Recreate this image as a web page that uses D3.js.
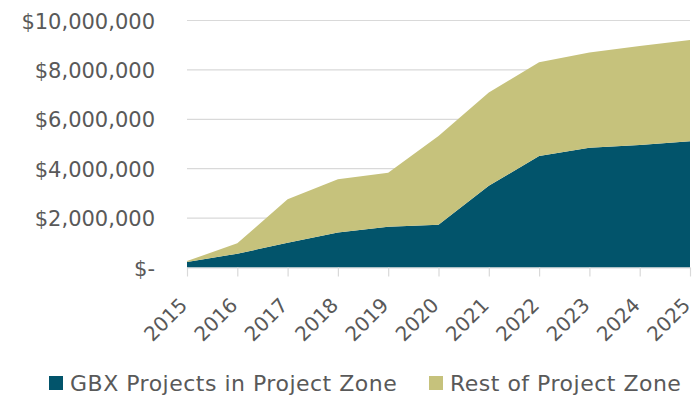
<!DOCTYPE html>
<html><head><meta charset="utf-8">
<script src="https://cdn.jsdelivr.net/npm/d3@7"></script>
<style>body{margin:0;background:#fff;}svg{display:block;}</style>
</head><body><div id="chart"></div>
<script>
const years = [2015,2016,2017,2018,2019,2020,2021,2022,2023,2024,2025];
const gbx  = [220000, 560000, 1000000, 1420000, 1650000, 1730000, 3310000, 4510000, 4850000, 4960000, 5110000];
const rest = [40000, 420000, 1760000, 2150000, 2190000, 3590000, 3770000, 3800000, 3850000, 4010000, 4100000];
const seriesNames = ["GBX Projects in Project Zone", "Rest of Project Zone"];
const colors = ["#02546B", "#C6C27C"];
const yTicks = [0, 2000000, 4000000, 6000000, 8000000, 10000000];

const W = 696, H = 406;
const m = {left:187, right:6, top:20.5, bottom:138.5};
const svg = d3.select("#chart").append("svg").attr("width", W).attr("height", H);
const x = d3.scalePoint().domain(years).range([m.left, W - m.right]);
const y = d3.scaleLinear().domain([0, 10000000]).range([H - m.bottom, m.top]);
const font = "'DejaVu Sans', sans-serif";
const textColor = "#595959";

// gridlines
svg.append("g").selectAll("line").data(yTicks.slice(1)).join("line")
  .attr("x1", m.left).attr("x2", W - m.right)
  .attr("y1", d => y(d)).attr("y2", d => y(d))
  .attr("stroke", "#D9D9D9").attr("stroke-width", 1.2);

const table = years.map((yr, i) => ({year: yr, gbx: gbx[i], rest: rest[i]}));
const stack = d3.stack().keys(["gbx", "rest"])(table);
const area = d3.area().x(d => x(d.data.year)).y0(d => y(d[0])).y1(d => y(d[1]));
svg.append("g").selectAll("path").data(stack).join("path")
  .attr("d", area).attr("fill", (d, i) => colors[i]);

// x axis
const xAxis = svg.append("g").attr("transform", `translate(0,${y(0)})`)
  .call(d3.axisBottom(x).tickSize(9).tickSizeOuter(0));
xAxis.select(".domain").attr("stroke", "#D9D9D9").attr("stroke-width", 1.2);
xAxis.selectAll(".tick line").attr("stroke", "#D9D9D9").attr("stroke-width", 1.2);
xAxis.selectAll(".tick text")
  .attr("font-family", font).attr("font-size", 20).attr("fill", textColor)
  .attr("text-anchor", "end").attr("dy", 0).attr("y", 0)
  .attr("transform", "translate(1,39) rotate(-45)");

// y axis labels
const yAxis = svg.append("g").attr("transform", `translate(155,0)`)
  .call(d3.axisLeft(y).tickValues(yTicks).tickSize(0)
    .tickFormat(d => d === 0 ? "$-" : "$" + d3.format(",")(d)));
yAxis.select(".domain").remove();
yAxis.selectAll(".tick text").attr("font-family", font).attr("font-size", 21)
  .attr("fill", textColor).attr("x", 0).attr("dy", "0.36em");

// legend
const leg = svg.append("g").attr("font-family", font).attr("font-size", 22)
  .attr("letter-spacing", 0.5).attr("fill", textColor);
const legX = [49, 429];
seriesNames.forEach((n, i) => {
  leg.append("rect").attr("x", legX[i]).attr("y", 376).attr("width", 14).attr("height", 14).attr("fill", colors[i]);
  leg.append("text").attr("x", legX[i] + 21).attr("y", 383).attr("dy", "0.36em").text(n);
});
</script></body></html>
